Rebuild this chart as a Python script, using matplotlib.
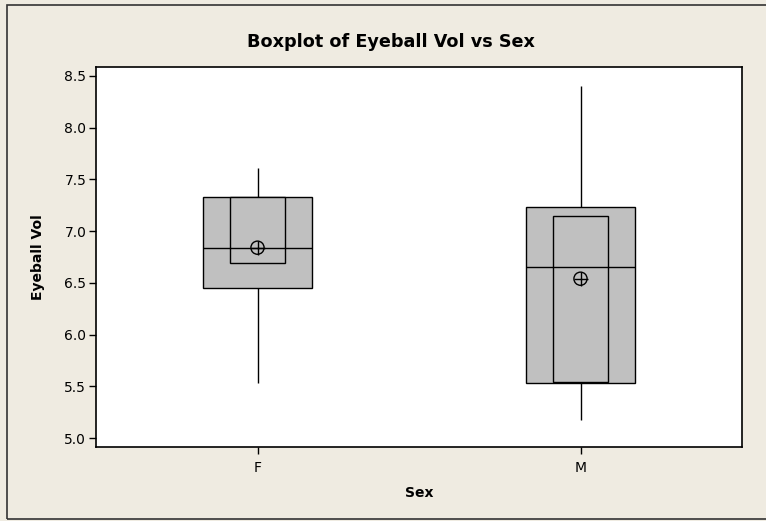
import matplotlib.pyplot as plt
from matplotlib.patches import Rectangle

# values (Minitab-style boxplot with median CI boxes)
groups = ["F", "M"]
whisker_low = [5.53, 5.17]
q1 = [6.45, 5.53]
median = [6.84, 6.65]
q3 = [7.33, 7.23]
whisker_high = [7.61, 8.40]
ci_low = [6.69, 5.54]
ci_high = [7.33, 7.15]
means = [6.84, 6.54]

bg = "#EFEBE1"
box_color = "#C0C0C0"

fig = plt.figure(figsize=(7.66, 5.21), dpi=100, facecolor=bg)
ax = fig.add_axes([96 / 766, 1 - 447 / 521, 646 / 766, 380 / 521])

# outer frame of the graph window
fig.patches.append(Rectangle((7 / 766, 2 / 521), 1.0, 1 - 7 / 521,
                             transform=fig.transFigure, fill=False,
                             edgecolor="#333333", linewidth=1.2))

pos = list(range(1, len(groups) + 1))
box_w = 0.336
ci_w = 0.17

for i, x in enumerate(pos):
    # whiskers
    ax.vlines(x, whisker_low[i], q1[i], color="black", linewidth=1, zorder=1)
    ax.vlines(x, q3[i], whisker_high[i], color="black", linewidth=1, zorder=1)
    # interquartile box
    ax.add_patch(Rectangle((x - box_w / 2, q1[i]), box_w, q3[i] - q1[i],
                           facecolor=box_color, edgecolor="black", linewidth=1, zorder=2))
    # median confidence interval box
    ax.add_patch(Rectangle((x - ci_w / 2, ci_low[i]), ci_w, ci_high[i] - ci_low[i],
                           facecolor=box_color, edgecolor="black", linewidth=1, zorder=3))
    # median line
    ax.hlines(median[i], x - box_w / 2, x + box_w / 2, color="black", linewidth=1, zorder=4)

# mean symbols
ax.scatter(pos, means, s=90, marker="o", facecolor="none", edgecolor="black",
           linewidth=1, zorder=5)
ax.scatter(pos, means, s=90, marker="+", color="black", linewidth=1, zorder=5)

ax.set_xlim(0.5, 2.5)
ax.set_ylim(4.913, 8.587)
ax.set_xticks(pos)
ax.set_xticklabels(groups)
ax.set_yticks([5.0, 5.5, 6.0, 6.5, 7.0, 7.5, 8.0, 8.5])
ax.set_yticklabels(["5.0", "5.5", "6.0", "6.5", "7.0", "7.5", "8.0", "8.5"])
ax.tick_params(direction="out", length=5, width=1, labelsize=10, colors="black", pad=2)
ax.tick_params(axis="x", pad=5)
for s in ax.spines.values():
    s.set_linewidth(1.2)

ax.set_xlabel("Sex", fontsize=10, fontweight="bold", labelpad=8)
ax.set_ylabel("Eyeball Vol", fontsize=10, fontweight="bold", labelpad=14)
fig.text(391 / 766, 1 - 42 / 521, "Boxplot of Eyeball Vol vs Sex", ha="center", va="center",
         fontsize=12.7, fontweight="bold")

fig.savefig("out.png", dpi=100, facecolor=bg)
